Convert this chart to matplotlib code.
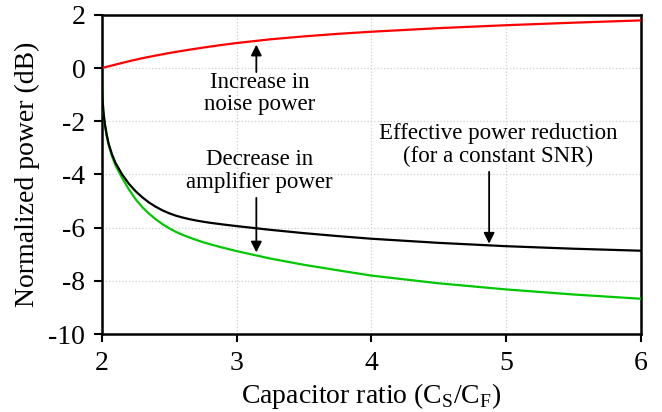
import numpy as np
import matplotlib
matplotlib.use("Agg")
import matplotlib.pyplot as plt

plt.rcParams['font.family'] = ['Liberation Serif', 'DejaVu Serif']
plt.rcParams['axes.unicode_minus'] = False

# capacitor ratio Cs/Cf
ratio = [2.0, 2.001, 2.004, 2.01, 2.02, 2.035, 2.05, 2.075, 2.1, 2.15, 2.2, 2.25,
         2.3, 2.35, 2.4, 2.45, 2.5, 2.55, 2.6, 2.65, 2.7, 2.75, 2.8, 2.9, 3.0,
         3.25, 3.5, 3.75, 4.0, 4.5, 5.0, 5.5, 6.0]
# decrease in amplifier power (dB)
amp_power = [0, -0.6, -1.1, -1.62, -2.08, -2.55, -2.9, -3.32, -3.65, -4.13, -4.56,
             -4.93, -5.23, -5.475, -5.685, -5.87, -6.025, -6.16, -6.27, -6.37,
             -6.46, -6.544, -6.618, -6.755, -6.88, -7.16, -7.395, -7.6, -7.8,
             -8.09, -8.32, -8.51, -8.67]
# effective power reduction for constant SNR (dB)
eff_power = [0, -0.6, -1.1, -1.6, -2.05, -2.5, -2.85, -3.25, -3.56, -4.0, -4.35,
             -4.63, -4.86, -5.055, -5.215, -5.35, -5.46, -5.55, -5.62, -5.68,
             -5.73, -5.774, -5.813, -5.88, -5.94, -6.08, -6.205, -6.315, -6.415,
             -6.57, -6.695, -6.79, -6.865]

# increase in noise power (dB)
ratio_noise = [2.0, 2.1, 2.2, 2.3, 2.4, 2.5, 2.6, 2.7, 2.8, 2.9, 3.0, 3.25, 3.5,
               3.75, 4.0, 4.5, 5.0, 5.5, 6.0]
noise_power = [0, 0.13, 0.255, 0.37, 0.47, 0.565, 0.65, 0.73, 0.805, 0.875, 0.94,
               1.08, 1.19, 1.285, 1.365, 1.5, 1.61, 1.705, 1.79]

fig = plt.figure(figsize=(6.62, 4.12), dpi=100)
ax = fig.add_axes([0.154, 0.189, 0.814, 0.775])

ax.plot(ratio_noise, noise_power, color='#ff0000', lw=1.6, zorder=3)
ax.plot(ratio, amp_power, color='#00c800', lw=1.6, zorder=3)
ax.plot(ratio, eff_power, color='black', lw=1.6, zorder=4)

ax.set_xlim(2, 6)
ax.set_ylim(-10, 2)
ax.set_xticks([2, 3, 4, 5, 6])
ax.set_yticks(np.arange(-10, 3, 2))
ax.grid(True, color='#cfcfcf', linestyle=':', lw=0.9)
ax.set_axisbelow(True)

for s in ax.spines.values():
    s.set_linewidth(1.8)
ax.tick_params(direction='out', length=6, width=1.5, labelsize=20, pad=6)

ax.set_xlabel('Capacitor ratio (C$_\\mathregular{S}$/C$_\\mathregular{F}$)', fontsize=20, labelpad=4)
ax.set_ylabel('Normalized power (dB)', fontsize=20, labelpad=6)

arrow = dict(arrowstyle='-|>', color='black', lw=1.3, mutation_scale=16, shrinkA=0, shrinkB=0)
fs = 16.5

ax.annotate('', xy=(3.146, 0.88), xytext=(3.146, -0.15), arrowprops=arrow)
ax.text(3.17, -0.95, 'Increase in\nnoise power', ha='center', va='center',
        fontsize=fs, linespacing=1.1)

ax.annotate('', xy=(3.146, -6.93), xytext=(3.146, -4.88), arrowprops=arrow)
ax.text(3.17, -3.87, 'Decrease in\namplifier power', ha='center', va='center',
        fontsize=fs, linespacing=1.1)

ax.annotate('', xy=(4.874, -6.6), xytext=(4.874, -3.9), arrowprops=arrow)
ax.text(4.94, -2.9, 'Effective power reduction\n(for a constant SNR)', ha='center',
        va='center', fontsize=fs, linespacing=1.1)

fig.savefig('out.png', dpi=100)
